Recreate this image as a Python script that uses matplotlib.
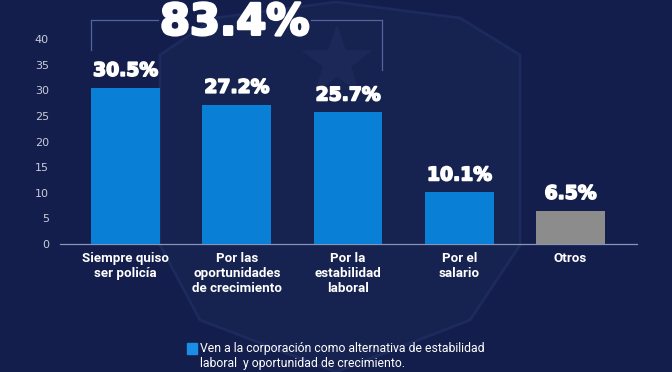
import matplotlib.pyplot as plt
from matplotlib.patches import Rectangle, Polygon
import matplotlib.patheffects as pe
import numpy as np

# datos
categorias = ["Siempre quiso\nser policía", "Por las\noportunidades\nde crecimiento",
              "Por la\nestabilidad\nlaboral", "Por el\nsalario", "Otros"]
valores = [30.5, 27.2, 25.7, 10.1, 6.5]
etiquetas = ["30.5%", "27.2%", "25.7%", "10.1%", "6.5%"]
total_grupo = "83.4%"
yticks = [0, 5, 10, 15, 20, 25, 30, 35, 40]
leyenda = "Ven a la corporación como alternativa de estabilidad\nlaboral  y oportunidad de crecimiento."

fondo = "#131e4c"
azul = "#0a7fd6"
gris = "#8c8c8c"
colores = [azul, azul, azul, azul, gris]

W, H = 672, 372
fig = plt.figure(figsize=(W / 100, H / 100), dpi=100, facecolor=fondo)


def px(puntos):
    # pixeles (origen arriba-izq) -> fraccion de figura
    return [(a / W, 1 - b / H) for a, b in puntos]


# marca de agua (escudo tenue)
escudo = px([(160, 55), (215, 18), (336, 2), (460, 18), (520, 55), (520, 245),
             (470, 320), (336, 372), (200, 320), (160, 245)])
fig.patches.append(Polygon(escudo, closed=True, transform=fig.transFigure,
                           facecolor="#16224f", edgecolor="#1d2a5d", lw=2, zorder=-5))
ang = np.pi / 2 + np.arange(10) * np.pi / 5
rad = np.where(np.arange(10) % 2 == 0, 38, 15)
estrella = px(list(zip(337 + rad * np.cos(ang), 62 - rad * np.sin(ang))))
fig.patches.append(Polygon(estrella, closed=True, transform=fig.transFigure,
                           facecolor="#1b2858", edgecolor="none", zorder=-4))

ax = fig.add_axes([60 / W, 1 - 244 / H, 577 / W, 205 / H])
ax.set_facecolor("none")

x = np.arange(len(valores))
ancho = 0.62
bars = ax.bar(x, valores, width=ancho, color=colores, zorder=3)

ax.set_xlim(-0.589, 4.598)
ax.set_ylim(0, 40)
ax.set_yticks(yticks)
ax.set_xticks(x)
ax.set_xticklabels(categorias, fontfamily="Roboto", fontweight="bold", fontsize=9.6,
                   color="white", linespacing=1.18)
ax.tick_params(axis="x", length=0, pad=6)
ax.tick_params(axis="y", length=0, pad=8, labelcolor="#c9ccda", labelsize=8)

for s in ["top", "right", "left"]:
    ax.spines[s].set_visible(False)
ax.spines["bottom"].set_color("#8a93b8")
ax.spines["bottom"].set_linewidth(0.9)

grueso = [pe.withStroke(linewidth=1.2, foreground="white")]

# etiquetas de valor
for xi, v, t in zip(x, valores, etiquetas):
    ax.annotate(t, (xi, v), xytext=(0, 8.5), textcoords="offset points",
                ha="center", va="baseline", fontsize=13.5, fontweight="bold",
                color="white", fontfamily="DejaVu Sans", zorder=5, path_effects=grueso)

# corchete sobre los tres primeros
y_linea = 43.7
izq = x[0] - ancho / 2
der = x[2] + ancho / 2
centro = (izq + der) / 2
txt = ax.text(centro - 0.02, 43.2, total_grupo, ha="center", va="center", fontsize=31,
              fontweight="bold", color="white", fontfamily="DejaVu Sans", clip_on=False,
              zorder=5, path_effects=[pe.withStroke(linewidth=2, foreground="white")])
fig.canvas.draw()
bb = txt.get_window_extent().transformed(ax.transData.inverted())
col_linea = "#52659f"
for xs in ([izq, bb.x0 - 0.02], [bb.x1 + 0.02, der]):
    ax.plot(xs, [y_linea, y_linea], color=col_linea, lw=0.9, clip_on=False, zorder=2)
ax.plot([izq, izq], [y_linea, 37.9], color=col_linea, lw=0.9, clip_on=False, zorder=2)
ax.plot([der, der], [y_linea, 34.0], color=col_linea, lw=0.9, clip_on=False, zorder=2)

# leyenda
fig.patches.append(Rectangle((187 / W, 1 - 354 / H), 10 / W, 11 / H,
                             transform=fig.transFigure, color="#1a8ee6"))
fig.text(200 / W, 1 - 342 / H, leyenda, fontfamily="Roboto", fontsize=8.8,
         color="white", va="top", ha="left", linespacing=1.2)

fig.savefig("out.png", dpi=100, facecolor=fondo)
